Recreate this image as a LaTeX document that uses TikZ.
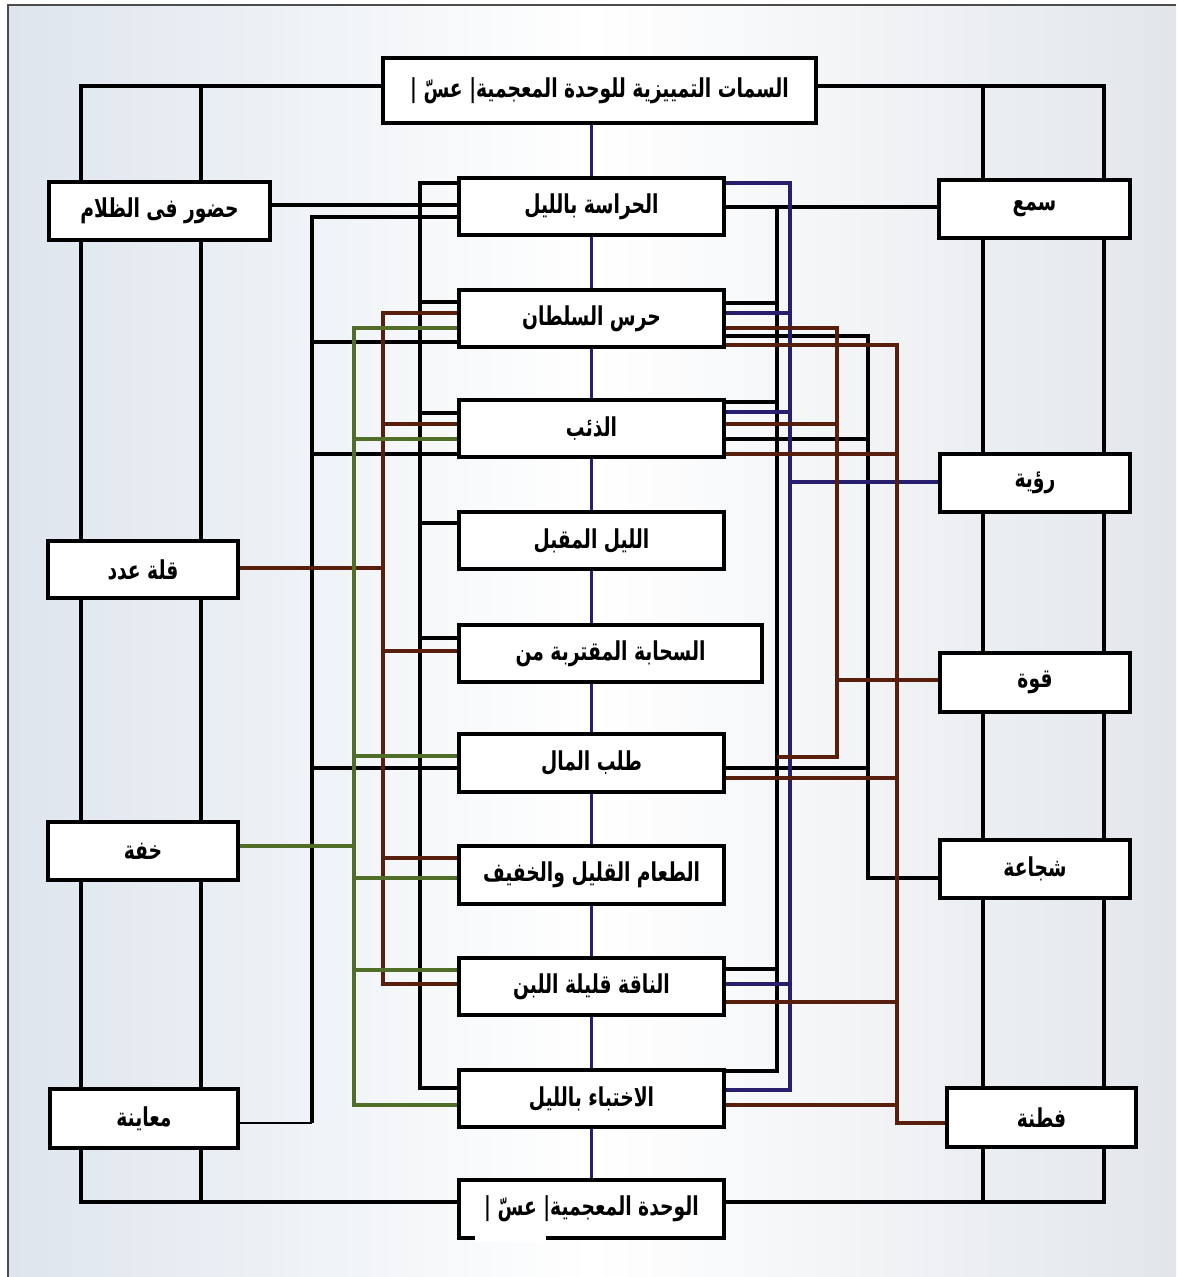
\documentclass[tikz,border=0pt]{standalone}
\usepackage{fontspec}
\newfontfamily\arabicfont[Script=Arabic, FakeStretch=0.72]{DejaVu Sans}
\TeXXeTstate=1
\pgfdeclarelayer{back}
\pgfdeclarelayer{wires}
\pgfsetlayers{back,wires,main}
\definecolor{navy}{RGB}{40,30,110}
\definecolor{rust}{RGB}{88,32,12}
\definecolor{oliv}{RGB}{80,110,40}
\definecolor{bgleft}{RGB}{222,229,237}
\definecolor{bgright}{RGB}{226,230,235}
\begin{document}
\begin{tikzpicture}[x=1pt,y=-1pt,
  box/.style={draw, line width=3.2pt, fill=white, inner sep=0pt,
    font=\arabicfont\bfseries\fontsize{26}{30}\selectfont},
  blk/.style={draw=black, line width=3.2pt},
  blu/.style={draw=navy, line width=3.4pt},
  brn/.style={draw=rust, line width=3.4pt},
  grn/.style={draw=oliv, line width=3.4pt}]
\useasboundingbox (0,0) rectangle (1176,1277);
% ---- background
\begin{pgfonlayer}{back}
  \fill[white] (0,0) rectangle (1176,1277);
  \shade[left color=bgleft, right color=bgright, middle color=white] (8,5) rectangle (1176,1277);
  \draw[black!70, line width=1.2pt] (8,1277) -- (8,5) -- (1176,5);
\end{pgfonlayer}
% ---- boxes
\node[box, minimum width=433pt, minimum height=65pt] (top) at (599.5,90.5) {\beginR السمات التمييزية للوحدة المعجمية| عسّ |\endR};
\node[box, minimum width=265pt, minimum height=58pt] (bottom) at (591.5,1209) {\beginR الوحدة المعجمية| عسّ |\endR};
\node[box, minimum width=265pt, minimum height=57pt] (harasa) at (591.5,206.5) {\beginR الحراسة بالليل\endR};
\node[box, minimum width=265pt, minimum height=57pt] (haras) at (591.5,318.5) {\beginR حرس السلطان\endR};
\node[box, minimum width=265pt, minimum height=57pt] (dhib) at (591.5,428.5) {\beginR الذئب\endR};
\node[box, minimum width=265pt, minimum height=57pt] (layl) at (591.5,540.5) {\beginR الليل المقبل\endR};
\node[box, minimum width=303pt, minimum height=57pt] (sahaba) at (610.5,653.5) {\beginR السحابة المقتربة من\endR};
\node[box, minimum width=265pt, minimum height=58pt] (talab) at (591.5,763) {\beginR طلب المال\endR};
\node[box, minimum width=265pt, minimum height=58pt] (taam) at (591.5,875) {\beginR الطعام القليل والخفيف\endR};
\node[box, minimum width=265pt, minimum height=57pt] (naqa) at (591.5,986.5) {\beginR الناقة قليلة اللبن\endR};
\node[box, minimum width=265pt, minimum height=57pt] (ikhtiba) at (591.5,1098.5) {\beginR الاختباء بالليل\endR};
% left
\node[box, minimum width=221pt, minimum height=58pt] (hudur) at (159.5,211) {\beginR حضور فى الظلام\endR};
\node[box, minimum width=190pt, minimum height=57pt] (qilla) at (143,569.5) {\beginR قلة عدد\endR};
\node[box, minimum width=190pt, minimum height=58pt] (khiffa) at (143,851) {\beginR خفة\endR};
\node[box, minimum width=188pt, minimum height=59pt] (muayana) at (144,1118.5) {\beginR معاينة\endR};
% right
\node[box, minimum width=191pt, minimum height=58pt] (sam) at (1034.5,209) {\beginR سمع\endR};
\node[box, minimum width=190pt, minimum height=58pt] (ruya) at (1035,483) {\beginR رؤية\endR};
\node[box, minimum width=190pt, minimum height=59pt] (quwwa) at (1035,682.5) {\beginR قوة\endR};
\node[box, minimum width=190pt, minimum height=58pt] (shajaa) at (1035,869) {\beginR شجاعة\endR};
\node[box, minimum width=189pt, minimum height=59pt] (fitna) at (1041.5,1117.5) {\beginR فطنة\endR};
% white patch over bottom border
\fill[white] (475,1234) rectangle (546,1242);
% ---- connectors
\begin{pgfonlayer}{wires}
  % outer frame lines
  \draw[blk] (top.west |- 0,86) -- (81,86) -- (81,1202) -- (bottom.west |- 0,1202);
  \draw[blk] (201,86) -- (201,1202);
  \draw[blk] (top.east |- 0,86) -- (1104,86) -- (1104,1202) -- (bottom.east |- 0,1202);
  \draw[blk] (983,86) -- (983,1202);
  % central navy spine
  \draw[blu, line width=3pt] (top.south -| harasa.north) -- (bottom.north);
  % black left A (x=420)
  \draw[blk] (harasa.west |- 0,183) -- (420,183) -- (420,1088) -- (ikhtiba.west |- 0,1088);
  \draw[blk] (420,302) -- (haras.west |- 0,302);
  \draw[blk] (420,413) -- (dhib.west |- 0,413);
  \draw[blk] (420,523) -- (layl.west |- 0,523);
  \draw[blk] (420,638) -- (sahaba.west |- 0,638);
  % black left B (x=312)
  \draw[blk] (harasa.west |- 0,217) -- (312,217) -- (312,1123);
  \draw[blk, line width=2.4pt] (312,1123) -- (muayana.east |- 0,1123);
  \draw[blk] (312,342) -- (haras.west |- 0,342);
  \draw[blk] (312,454) -- (dhib.west |- 0,454);
  \draw[blk] (312,768) -- (talab.west |- 0,768);
  % hudur
  \draw[blk] (hudur.east |- 0,205) -- (harasa.west |- 0,205);
  % sam
  \draw[blk] (harasa.east |- 0,207) -- (sam.west |- 0,207);
  % black right C (x=777)
  \draw[blk] (777,207) -- (777,1071) -- (ikhtiba.east |- 0,1071);
  \draw[blk] (haras.east |- 0,303) -- (777,303);
  \draw[blk] (dhib.east |- 0,402) -- (777,402);
  \draw[blk] (naqa.east |- 0,969) -- (777,969);
  % black right D (x=868)
  \draw[blk] (haras.east |- 0,336) -- (868,336) -- (868,878) -- (shajaa.west |- 0,878);
  \draw[blk] (dhib.east |- 0,439) -- (868,439);
  \draw[blk] (talab.east |- 0,768) -- (868,768);
  % navy right (x=790)
  \draw[blu] (harasa.east |- 0,183) -- (790,183) -- (790,1090) -- (ikhtiba.east |- 0,1090);
  \draw[blu] (haras.east |- 0,313) -- (790,313);
  \draw[blu] (dhib.east |- 0,412) -- (790,412);
  \draw[blu] (790,482) -- (ruya.west |- 0,482);
  \draw[blu] (naqa.east |- 0,984) -- (790,984);
  % brown left (x=383)
  \draw[brn] (haras.west |- 0,313) -- (383,313) -- (383,984) -- (naqa.west |- 0,984);
  \draw[brn] (383,424) -- (dhib.west |- 0,424);
  \draw[brn] (qilla.east |- 0,568) -- (383,568);
  \draw[brn] (383,651) -- (sahaba.west |- 0,651);
  \draw[brn] (383,858) -- (taam.west |- 0,858);
  % brown right R1 (x=837)
  \draw[brn] (haras.east |- 0,328) -- (837,328) -- (837,757) -- (777,757);
  \draw[brn] (dhib.east |- 0,424) -- (837,424);
  \draw[brn] (837,680) -- (quwwa.west |- 0,680);
  % brown right R2 (x=897)
  \draw[brn] (haras.east |- 0,345) -- (897,345) -- (897,1123) -- (fitna.west |- 0,1123);
  \draw[brn] (dhib.east |- 0,454) -- (897,454);
  \draw[brn] (talab.east |- 0,778) -- (897,778);
  \draw[brn] (naqa.east |- 0,1002) -- (897,1002);
  \draw[brn] (ikhtiba.east |- 0,1105) -- (897,1105);
  % green left (x=354)
  \draw[grn] (haras.west |- 0,328) -- (354,328) -- (354,1105) -- (ikhtiba.west |- 0,1105);
  \draw[grn] (354,439) -- (dhib.west |- 0,439);
  \draw[grn] (354,756) -- (talab.west |- 0,756);
  \draw[grn] (khiffa.east |- 0,846) -- (354,846);
  \draw[grn] (354,878) -- (taam.west |- 0,878);
  \draw[grn] (354,970) -- (naqa.west |- 0,970);
\end{pgfonlayer}
\end{tikzpicture}
\end{document}
